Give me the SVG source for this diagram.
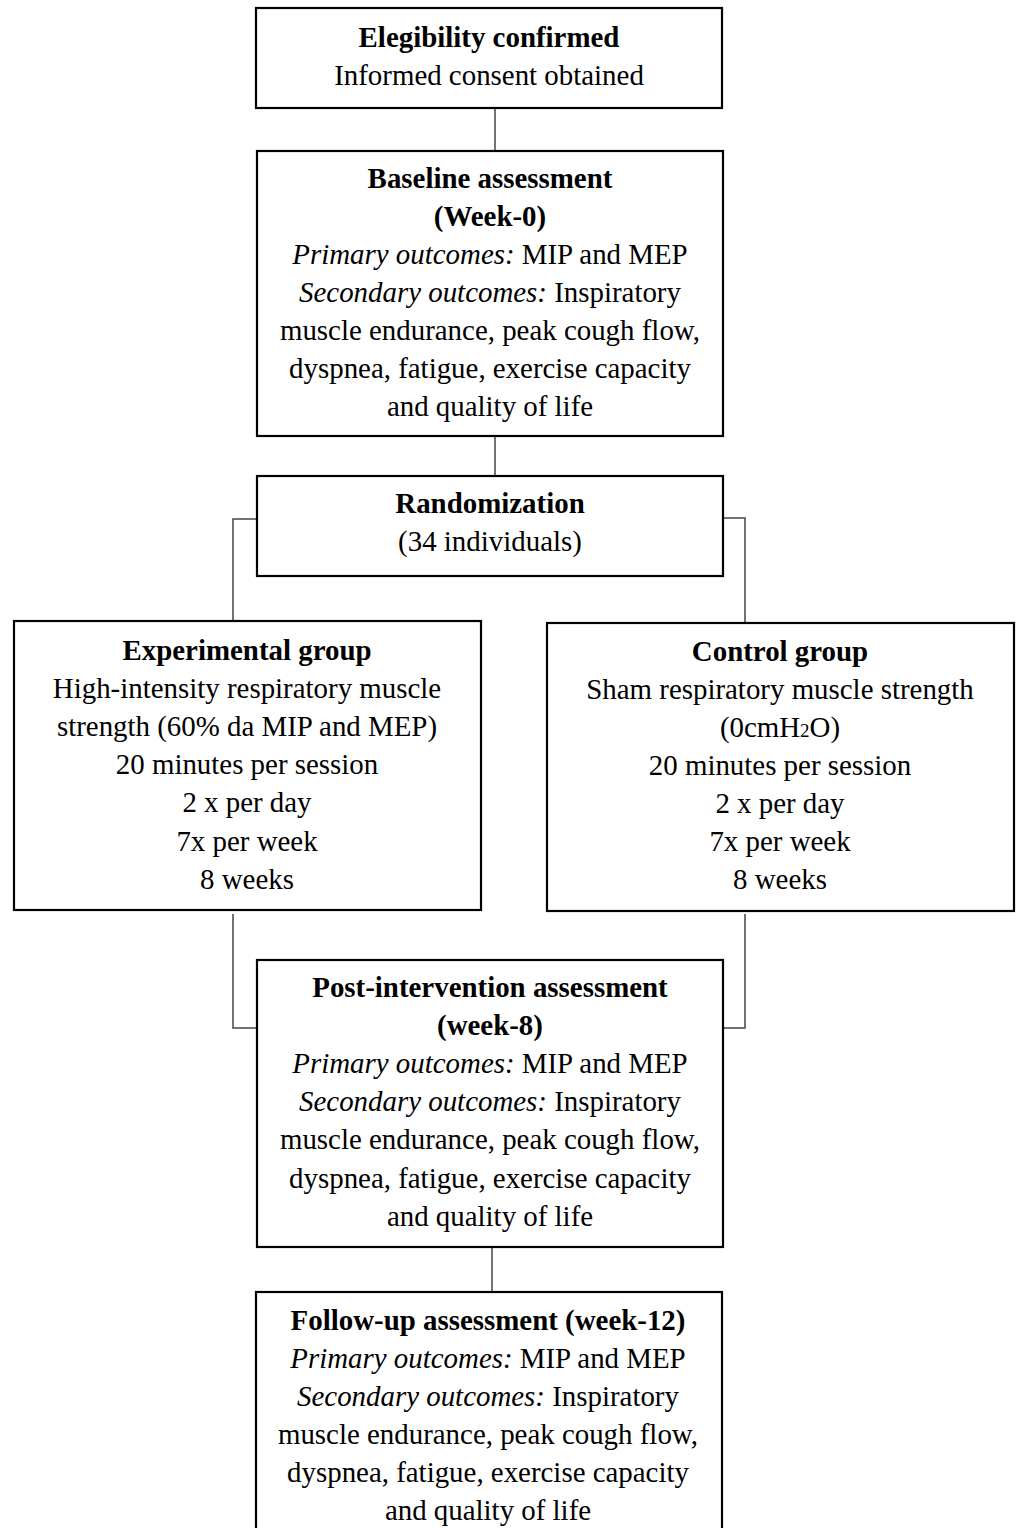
<svg xmlns="http://www.w3.org/2000/svg" width="1019" height="1528" viewBox="0 0 1019 1528">
<style>
.box{fill:#fff;stroke:#000;stroke-width:2.2}
.con{fill:none;stroke:#444;stroke-width:1.5}
text{font-family:"Liberation Serif","Times New Roman",serif;font-size:28.9px;fill:#000;text-anchor:middle}
.b{font-weight:bold}
.i{font-style:italic}
</style>
<rect width="1019" height="1528" fill="#fff"/>
<g id="connectors">
<line class="con" x1="495" y1="108" x2="495" y2="151"/>
<line class="con" x1="495" y1="436" x2="495" y2="476"/>
<polyline class="con" points="257,519 233,519 233,621"/>
<polyline class="con" points="723,518 745,518 745,623"/>
<polyline class="con" points="233,914 233,1028 257,1028"/>
<polyline class="con" points="745,914 745,1028 723,1028"/>
<line class="con" x1="492" y1="1247" x2="492" y2="1292"/>
</g>
<g id="eligibility">
<rect class="box" x="256" y="8" width="466" height="100"/>
<text x="489" y="47" class="b">Elegibility confirmed</text>
<text x="489" y="85">Informed consent obtained</text>
</g>
<g id="baseline">
<rect class="box" x="257" y="151" width="466" height="285"/>
<text x="490" y="188" class="b">Baseline assessment</text>
<text x="490" y="226" class="b">(Week-0)</text>
<text x="490" y="264"><tspan class="i">Primary outcomes:</tspan> MIP and MEP</text>
<text x="490" y="302"><tspan class="i">Secondary outcomes:</tspan> Inspiratory</text>
<text x="490" y="340">muscle endurance, peak cough flow,</text>
<text x="490" y="378">dyspnea, fatigue, exercise capacity</text>
<text x="490" y="416">and quality of life</text>
</g>
<g id="randomization">
<rect class="box" x="257" y="476" width="466" height="100"/>
<text x="490" y="513" class="b">Randomization</text>
<text x="490" y="551">(34 individuals)</text>
</g>
<g id="experimental">
<rect class="box" x="14" y="621" width="467" height="289"/>
<text x="247" y="660" class="b">Experimental group</text>
<text x="247" y="698">High-intensity respiratory muscle</text>
<text x="247" y="736">strength (60% da MIP and MEP)</text>
<text x="247" y="774">20 minutes per session</text>
<text x="247" y="812">2 x per day</text>
<text x="247" y="851">7x per week</text>
<text x="247" y="889">8 weeks</text>
</g>
<g id="control">
<rect class="box" x="547" y="623" width="467" height="288"/>
<text x="780" y="661" class="b">Control group</text>
<text x="780" y="699">Sham respiratory muscle strength</text>
<text x="780" y="737">(0cmH<tspan font-size="19">2</tspan>O)</text>
<text x="780" y="775">20 minutes per session</text>
<text x="780" y="813">2 x per day</text>
<text x="780" y="851">7x per week</text>
<text x="780" y="889">8 weeks</text>
</g>
<g id="post">
<rect class="box" x="257" y="960" width="466" height="287"/>
<text x="490" y="997" class="b">Post-intervention assessment</text>
<text x="490" y="1035" class="b">(week-8)</text>
<text x="490" y="1073"><tspan class="i">Primary outcomes:</tspan> MIP and MEP</text>
<text x="490" y="1111"><tspan class="i">Secondary outcomes:</tspan> Inspiratory</text>
<text x="490" y="1149">muscle endurance, peak cough flow,</text>
<text x="490" y="1188">dyspnea, fatigue, exercise capacity</text>
<text x="490" y="1226">and quality of life</text>
</g>
<g id="followup">
<rect class="box" x="256" y="1292" width="466" height="260"/>
<text x="488" y="1330" class="b">Follow-up assessment (week-12)</text>
<text x="488" y="1368"><tspan class="i">Primary outcomes:</tspan> MIP and MEP</text>
<text x="488" y="1406"><tspan class="i">Secondary outcomes:</tspan> Inspiratory</text>
<text x="488" y="1444">muscle endurance, peak cough flow,</text>
<text x="488" y="1482">dyspnea, fatigue, exercise capacity</text>
<text x="488" y="1520">and quality of life</text>
</g>
</svg>
